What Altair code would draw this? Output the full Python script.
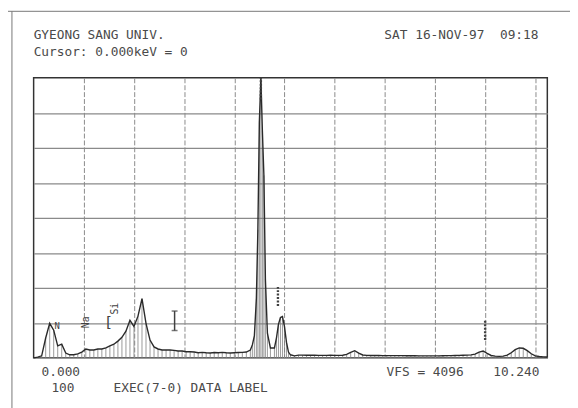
import altair as alt
import pandas as pd

# ---- spectrum (keV, counts) ----
energy_low = [0.00,0.08,0.16,0.24,0.32,0.40,0.48,0.56,0.64,0.72,0.80,0.88,0.96,1.04,1.12,1.20,
              1.28,1.36,1.44,1.52,1.60,1.68,1.76,1.84,1.92,2.00,2.08,2.16,2.24,2.32,2.40,2.48,
              2.56,2.64,2.72,2.80,2.88,2.96,3.04,3.12,3.20,3.28,3.36,3.44,3.52,3.60,3.68,3.76,
              3.84,3.92,4.00,4.08,4.16,4.24,4.32]
counts_low = [0,10,30,290,505,405,175,200,70,45,45,58,85,130,115,115,
              130,130,145,175,200,245,300,390,550,460,610,865,505,260,160,130,
              115,115,115,110,100,100,90,90,85,75,80,75,72,78,75,80,
              75,72,75,78,80,85,115]
energy_ti = [4.36,4.40,4.44,4.47,4.50,4.53,4.56,4.59,4.62,4.66,4.72,4.80,4.84,4.88,4.92,4.96,
             5.00,5.04,5.08,5.12,5.20]
counts_ti = [190,320,865,1875,3460,4096,3320,2670,1155,360,145,145,290,490,590,605,
             460,230,85,45,30]
energy_high = [5.28,5.36,5.44,5.52,5.60,5.68,5.76,5.84,5.92,6.00,6.08,6.16,6.24,6.32,6.40,6.48,
               6.56,6.64,6.72,6.80,6.88,6.96,7.04,7.12,7.20,7.28,7.36,7.44,7.52,7.60,7.68,7.76,
               7.84,7.92,8.00,8.08,8.16,8.24,8.32,8.40,8.48,8.56,8.64,8.72,8.80,8.88,8.96,9.04,
               9.12,9.20,9.28,9.36,9.44,9.52,9.60,9.68,9.76,9.84,9.92,10.00,10.08,10.16,10.24]
counts_high = [40,40,38,38,38,36,36,36,38,36,36,38,
               50,80,105,70,42,
               36,35,34,34,33,33,33,32,32,32,31,31,31,30,30,30,30,30,30,31,32,33,34,36,38,40,44,
               55,85,100,65,35,25,22,25,40,75,120,145,140,105,60,30,20,15,12]

# ---- element markers ----
marker_energy = [4.53, 4.87, 9.00]
marker_lo = [3780, 760, 260]
marker_hi = [4096, 1035, 545]
imarker_energy = [2.81]
imarker_lo = [400]
imarker_hi = [685]
label_text = ["N", "Na", "[", "Si"]
label_energy = [0.47, 1.04, 1.49, 1.63]
label_counts = [470, 520, 520, 720]
label_angle = [0, 270, 0, 270]
label_size = [9, 10, 15, 10]

x_grid = [1, 2, 3, 4, 5, 6, 7, 8, 9, 10]
y_grid = [512, 1024, 1536, 2048, 2560, 3072, 3584]

spec = pd.DataFrame({"E": energy_low + energy_ti + energy_high,
                     "C": counts_low + counts_ti + counts_high})
mk = pd.DataFrame({"E": marker_energy, "lo": marker_lo, "hi": marker_hi})
imk = pd.DataFrame({"E": imarker_energy, "lo": imarker_lo, "hi": imarker_hi})
lab = pd.DataFrame({"t": label_text, "E": label_energy, "C": label_counts,
                    "a": label_angle, "s": label_size})

xs = alt.Scale(domain=[0, 10.24], nice=False, zero=False)
ys = alt.Scale(domain=[0, 4096], nice=False)
xa = alt.Axis(values=x_grid, labels=False, ticks=False, domain=False, title=None,
              grid=True, gridColor="#8a8a8a", gridDash=[5, 2], gridWidth=1)
ya = alt.Axis(values=y_grid, labels=False, ticks=False, domain=False, title=None,
              grid=True, gridColor="#8a8a8a", gridWidth=1.2)

base = alt.Chart(spec)
hatch = base.mark_rule(color="#808080", strokeWidth=0.8).encode(
    x=alt.X("E:Q", scale=xs, axis=xa), y=alt.Y("C:Q", scale=ys, axis=ya), y2=alt.datum(0))
line = base.mark_line(color="#2a2a2a", strokeWidth=1.4).encode(
    x=alt.X("E:Q", scale=xs), y=alt.Y("C:Q", scale=ys))

mrk = alt.Chart(mk).mark_rule(color="#404040", strokeWidth=2.4, strokeDash=[2, 1.5]).encode(
    x=alt.X("E:Q", scale=xs), y=alt.Y("lo:Q", scale=ys), y2="hi:Q")
imrk = alt.Chart(imk).mark_rule(color="#404040", strokeWidth=1.5).encode(
    x=alt.X("E:Q", scale=xs), y=alt.Y("lo:Q", scale=ys), y2="hi:Q")
cap_lo = alt.Chart(imk).mark_tick(color="#404040", thickness=1.5, size=6, orient="horizontal").encode(
    x=alt.X("E:Q", scale=xs), y=alt.Y("lo:Q", scale=ys))
cap_hi = alt.Chart(imk).mark_tick(color="#404040", thickness=1.5, size=6, orient="horizontal").encode(
    x=alt.X("E:Q", scale=xs), y=alt.Y("hi:Q", scale=ys))

labels = alt.Chart(lab).mark_text(font="DejaVu Sans Mono", color="#404040").encode(
    x=alt.X("E:Q", scale=xs), y=alt.Y("C:Q", scale=ys), text="t:N",
    angle=alt.Angle("a:Q", scale=None), size=alt.Size("s:Q", scale=None, legend=None))

dummy = pd.DataFrame({"a": [0]})
frame_top = alt.Chart(dummy).mark_rule(color="#777777", strokeWidth=1).encode(
    x=alt.value(-30), x2=alt.value(545), y=alt.value(-67.5))
frame_left = alt.Chart(dummy).mark_rule(color="#777777", strokeWidth=1).encode(
    x=alt.value(-22), y=alt.value(-67.5), y2=alt.value(340))

def txt(s, x, y, align="left"):
    return alt.Chart(dummy).mark_text(font="DejaVu Sans Mono", fontSize=13, color="#4a4a4a",
                                      align=align, baseline="alphabetic").encode(
        x=alt.value(x), y=alt.value(y), text=alt.value(s))

NB = "\u00a0"
texts = [
    txt("GYEONG SANG UNIV.", 0, -39),
    txt("Cursor: 0.000keV = 0", 0, -22),
    txt("SAT 16-NOV-97" + NB + NB + "09:18", 512, -39, "right"),
    txt("0.000", 8, 302),
    txt("VFS = 4096", 358, 302),
    txt("10.240", 513, 302, "right"),
    txt("100", 18, 319),
    txt("EXEC(7-0) DATA LABEL", 81, 319),
]

chart = alt.layer(hatch, line, mrk, imrk, cap_lo, cap_hi, labels, frame_top, frame_left,
                  *texts).properties(
    width=521, height=284,
    autosize=alt.AutoSizeParams(type="none"),
    padding={"left": 26, "top": 68, "right": 23, "bottom": 48},
    background="white",
).configure_view(stroke="#333333", strokeWidth=1.5)

chart.save("out.html", embed_options={"renderer": "svg", "actions": False})
